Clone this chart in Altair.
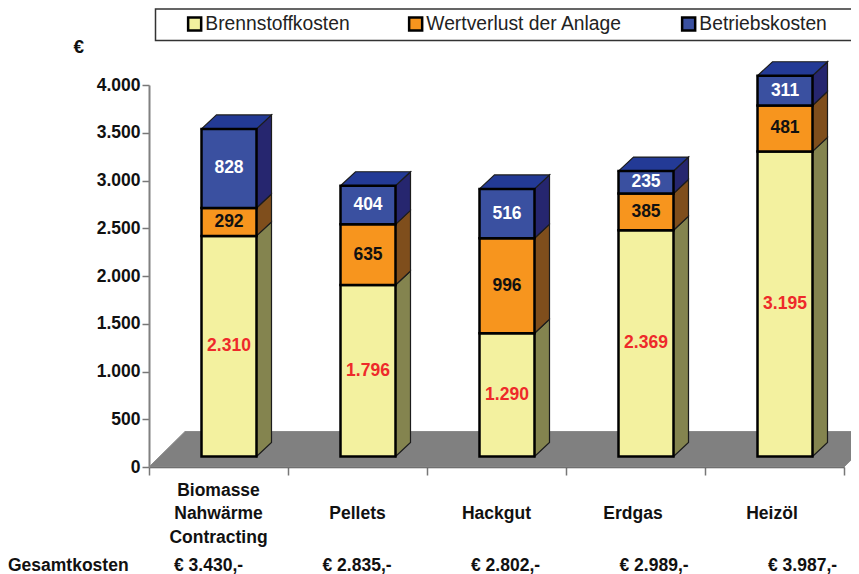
import altair as alt
import pandas as pd

categories = ["Biomasse\nNahwärme\nContracting", "Pellets", "Hackgut", "Erdgas", "Heizöl"]
brennstoff = [2310, 1796, 1290, 2369, 3195]
wertverlust = [292, 635, 996, 385, 481]
betrieb = [828, 404, 516, 235, 311]
totals = ["€ 3.430,-", "€ 2.835,-", "€ 2.802,-", "€ 2.989,-", "€ 3.987,-"]
series_names = ["Brennstoffkosten", "Wertverlust der Anlage", "Betriebskosten"]
front_colors = ["#F3F19F", "#F7951E", "#3A50A0"]
side_colors = ["#84844F", "#7F4E1C", "#26266F"]
top_color = "#233A96"
label_colors = ["#EE2A2A", "#111111", "#FFFFFF"]
value_labels = [["2.310", "1.796", "1.290", "2.369", "3.195"],
                ["292", "635", "996", "385", "481"],
                ["828", "404", "516", "235", "311"]]

PX_X = 139.0            # pixels per category band
PX_Y = 382 / 4000       # pixels per euro
BAR_LEFT = 52.5 / PX_X
BAR_W = 55.0 / PX_X
DX = 15.0 / PX_X
DY = 14.0 / PX_Y
BASE = 10.5 / PX_Y      # front of the bars sits forward on the floor
FLOOR_DX = 36.0 / PX_X
FLOOR_DY = 35.5 / PX_Y
FONT = "Liberation Sans"
TXT = 17.5


def slab(pid, x0, x1, v, dx, dy):
    """Parallelogram receding from the edge x0..x1 at level v, as a vertical area."""
    return [
        dict(id=pid, x=x0, y=v, y2=v),
        dict(id=pid, x=x0 + dx, y=v, y2=v + dy),
        dict(id=pid, x=x1, y=v, y2=v + dy),
        dict(id=pid, x=x1 + dx, y=v + dy, y2=v + dy),
    ]


front, side, top, labels = [], [], [], []
for i in range(len(categories)):
    v0 = BASE
    left, right = i + BAR_LEFT, i + BAR_LEFT + BAR_W
    for s, vals in enumerate([brennstoff, wertverlust, betrieb]):
        v1 = v0 + vals[i]
        front.append(dict(x=left, x2=right, y=v0, y2=v1, series=series_names[s]))
        pid = f"{i}-{s}"
        side.append(dict(id=pid, x=right, y=v0, y2=v1, fill=side_colors[s]))
        side.append(dict(id=pid, x=right + DX, y=v0 + DY, y2=v1 + DY, fill=side_colors[s]))
        labels.append(dict(x=(left + right) / 2, y=(v0 + v1) / 2,
                           text=value_labels[s][i], color=label_colors[s]))
        v0 = v1
    top += slab(i, left, right, v0, DX, DY)

front_df, side_df, top_df, label_df = map(pd.DataFrame, (front, side, top, labels))
floor_df = pd.DataFrame(slab("floor", 0, 5, 0, FLOOR_DX, FLOOR_DY))

xs = alt.Scale(domain=[0, 5], nice=False, zero=False)
ys = alt.Scale(domain=[0, 4000], nice=False)
X = alt.X("x:Q", scale=xs, axis=alt.Axis(values=[0, 1, 2, 3, 4, 5], labels=False, title=None, grid=False,
                                         tickSize=8, tickColor="#777777", tickWidth=1.5,
                                         domainColor="#555555", domainWidth=1.5))
Y = alt.Y("y:Q", scale=ys, axis=alt.Axis(values=list(range(0, 4001, 500)), title=None, grid=False,
                                         tickSize=7, tickColor="#777777", tickWidth=1.5,
                                         domainColor="#808080", domainWidth=2,
                                         labelFont=FONT, labelFontSize=TXT, labelFontWeight="bold",
                                         labelColor="#111111", labelPadding=2,
                                         labelExpr="replace(format(datum.value, ','), ',', '.')"))

floor = alt.Chart(floor_df).mark_area(fill="#808080", stroke="#8a8a8a", strokeWidth=1).encode(
    x=X, y=Y, y2="y2:Q", detail="id:N")

sides = alt.Chart(side_df).mark_area(stroke="#1c1c1c", strokeWidth=1.2).encode(
    x=alt.X("x:Q", scale=xs), y=alt.Y("y:Q", scale=ys), y2="y2:Q",
    detail="id:N", fill=alt.Fill("fill:N", scale=None))

tops = alt.Chart(top_df).mark_area(fill=top_color, stroke="#1c1c1c", strokeWidth=1.2).encode(
    x=alt.X("x:Q", scale=xs), y=alt.Y("y:Q", scale=ys), y2="y2:Q", detail="id:N")

fronts = alt.Chart(front_df).mark_rect(stroke="#000000", strokeWidth=2.5).encode(
    x=alt.X("x:Q", scale=xs), x2="x2:Q", y=alt.Y("y:Q", scale=ys), y2="y2:Q",
    color=alt.Color("series:N", scale=alt.Scale(domain=series_names, range=front_colors),
                    legend=alt.Legend(orient="none", legendX=36, legendY=-71, direction="horizontal",
                                      title=None, symbolType="square", symbolSize=170,
                                      symbolStrokeColor="#000000", symbolStrokeWidth=2.5, symbolOpacity=1,
                                      labelFont=FONT, labelFontSize=19.3, labelColor="#222222",
                                      labelOffset=1, columnPadding=54, labelLimit=300, padding=0)))

value_text = alt.Chart(label_df).mark_text(font=FONT, fontSize=TXT, fontWeight="bold").encode(
    x=alt.X("x:Q", scale=xs), y=alt.Y("y:Q", scale=ys), text="text:N",
    color=alt.Color("color:N", scale=None))

cat_shift = [0, 0, 0, -2.5, -2.5]
cat_df = pd.DataFrame({"x": [i + 0.5 + cat_shift[i] / PX_X for i in range(5)],
                       "text": categories,
                       "py": [405.5 if "\n" in c else 429 for c in categories]})
cat_text = alt.Chart(cat_df).mark_text(font=FONT, fontSize=TXT, fontWeight="bold", lineBreak="\n",
                                       lineHeight=23.5, color="#111111").encode(
    x=alt.X("x:Q", scale=xs), y=alt.Y("py:Q", scale=None, axis=None), text="text:N")

tot_df = pd.DataFrame({"x": [(25 + 148.5 * i) / PX_X for i in range(5)], "text": totals})
tot_text = alt.Chart(tot_df).mark_text(font=FONT, fontSize=TXT, fontWeight="bold", align="left",
                                       color="#111111").encode(
    x=alt.X("x:Q", scale=xs), y=alt.value(481), text="text:N")

gesamt = alt.Chart(pd.DataFrame({"t": ["Gesamtkosten"]})).mark_text(
    font=FONT, fontSize=TXT, fontWeight="bold", align="left", color="#111111").encode(
    x=alt.value(-141), y=alt.value(481), text="t:N")

euro = alt.Chart(pd.DataFrame({"t": ["€"]})).mark_text(
    font=FONT, fontSize=19, fontWeight="bold", align="left", color="#111111").encode(
    x=alt.value(-75.5), y=alt.value(-38.5), text="t:N")

box = alt.Chart(pd.DataFrame({"a": [0]})).mark_rect(fill="transparent", stroke="#333333", strokeWidth=1.5).encode(
    x=alt.value(6.5), x2=alt.value(730), y=alt.value(-76), y2=alt.value(-44.5))

chart = alt.layer(floor, sides, tops, fronts, value_text, cat_text, tot_text, gesamt, euro, box).properties(
    width=695, height=382,
    autosize=alt.AutoSizeParams(type="none"),
    padding={"left": 141, "top": 77, "right": 7, "bottom": 107},
).configure_view(stroke=None)

chart.save("out.html", embed_options={"renderer": "svg", "actions": False})
